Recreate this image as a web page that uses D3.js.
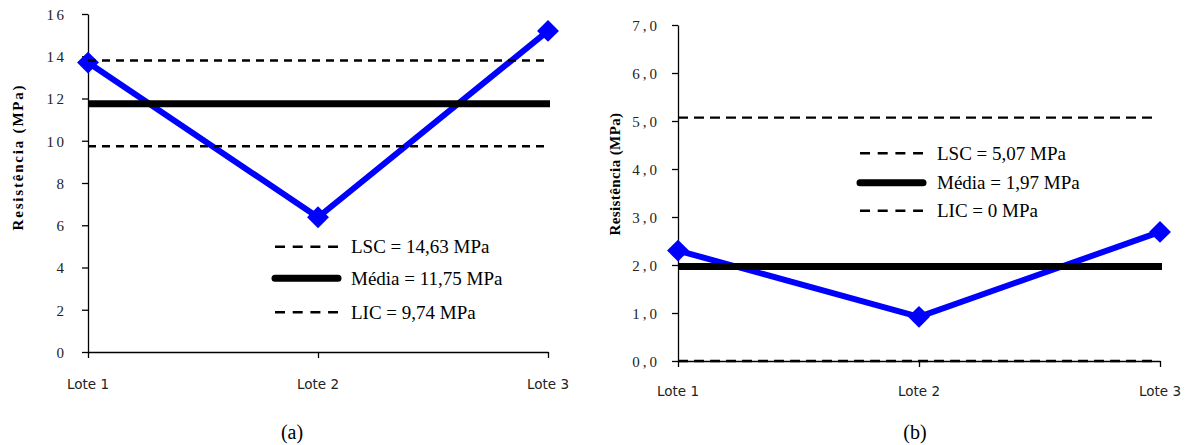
<!DOCTYPE html>
<html>
<head>
<meta charset="utf-8">
<script src="https://cdn.jsdelivr.net/npm/d3@7/dist/d3.min.js"></script>
<style>
  html, body { margin: 0; padding: 0; background: #fff; }
  svg { display: block; }
</style>
</head>
<body>
<svg id="chart" width="1188" height="445"></svg>
<script>
// ---------- data ----------
const categories = ["Lote 1", "Lote 2", "Lote 3"];
const valuesA = [13.7, 6.38, 15.2];
const valuesB = [2.3, 0.92, 2.69];
// control lines as drawn: LSC, Média, LIC
const limitsA = [13.8, 11.75, 9.74];
const limitsB = [5.07, 1.97, 0];
const legendA = ["LSC = 14,63 MPa", "Média = 11,75 MPa", "LIC = 9,74 MPa"];
const legendB = ["LSC = 5,07 MPa", "Média = 1,97 MPa", "LIC = 0 MPa"];
const ticksA = [0, 2, 4, 6, 8, 10, 12, 14, 16];
const ticksB = [0, 1, 2, 3, 4, 5, 6, 7];
const yTitle = "Resistência (MPa)";
const panelLabels = ["(a)", "(b)"];

const svg = d3.select("#chart");
const SERIF = "'Liberation Serif', 'Times New Roman', serif";
const SANS = "'DejaVu Sans', sans-serif";

const panels = [
  {
    values: valuesA, limits: limitsA, legend: legendA, ticks: ticksA,
    domain: [0, 16], fmt: d3.format("d"),
    x0: 88, x1: 548, yTop: 14, yBot: 352,
    tickLS: 2.5, tickGap: 18,
    titleX: 18, titleY: 157, titleLS: 1.8,
    dash: "8,6",
    legX: 275, legTextX: 351, legY: [246.7, 278.3, 312.3],
    xLabelY: 389, label: panelLabels[0], labelX: 292
  },
  {
    values: valuesB, limits: limitsB, legend: legendB, ticks: ticksB,
    domain: [0, 7], fmt: d => d3.format(".1f")(d).replace(".", ","),
    x0: 678, x1: 1160, yTop: 25, yBot: 361,
    tickLS: 3, tickGap: 15,
    titleX: 615, titleY: 174, titleLS: 0.4,
    dash: "10,6",
    legX: 860, legTextX: 937, legY: [153.3, 182.7, 210.7],
    xLabelY: 396, label: panelLabels[1], labelX: 915
  }
];

panels.forEach(p => {
  const x = d3.scalePoint().domain(categories).range([p.x0, p.x1]).padding(0);
  const y = d3.scaleLinear().domain(p.domain).range([p.yBot, p.yTop]);
  const g = svg.append("g");

  // y axis
  const ya = g.append("g")
    .attr("transform", `translate(${p.x0},0)`)
    .call(d3.axisLeft(y).tickValues(p.ticks).tickFormat(p.fmt).tickSize(6).tickSizeOuter(0).tickPadding(p.tickGap));
  ya.attr("font-family", null);
  ya.select(".domain").attr("stroke", "#000").attr("stroke-width", 1.3);
  ya.selectAll(".tick line").attr("stroke", "#000").attr("stroke-width", 1.3);
  ya.selectAll(".tick text")
    .attr("font-family", SERIF).attr("font-size", 15).attr("fill", "#222")
    .attr("letter-spacing", p.tickLS)
    .attr("x", -(6 + p.tickGap) + p.tickLS)
    .attr("dy", "0.35em");

  // x axis
  const xa = g.append("g")
    .attr("transform", `translate(0,${p.yBot})`)
    .call(d3.axisBottom(x).tickSize(6).tickSizeOuter(0).tickFormat(() => ""));
  xa.select(".domain").attr("stroke", "#000").attr("stroke-width", 1.3);
  xa.selectAll(".tick line").attr("stroke", "#000").attr("stroke-width", 1.3);

  g.selectAll(".xlab").data(categories).enter().append("text")
    .attr("x", d => x(d)).attr("y", p.xLabelY)
    .attr("text-anchor", "middle")
    .attr("font-family", SANS).attr("font-size", 13.5).attr("fill", "#222")
    .text(d => d);

  // y title
  g.append("text")
    .attr("transform", `translate(${p.titleX + 5},${p.titleY}) rotate(-90)`)
    .attr("text-anchor", "middle")
    .attr("font-family", SERIF).attr("font-size", 15).attr("font-weight", "bold")
    .attr("letter-spacing", p.titleLS)
    .text(yTitle);

  // series line
  const pts = categories.map((c, i) => [x(c), y(p.values[i])]);
  g.append("path")
    .attr("d", d3.line()(pts))
    .attr("fill", "none").attr("stroke", "#0000FF").attr("stroke-width", 6)
    .attr("stroke-linejoin", "miter");
  g.selectAll(".mk").data(pts).enter().append("path")
    .attr("d", d3.symbol(d3.symbolSquare, 240)())
    .attr("transform", d => `translate(${d[0]},${d[1]}) rotate(45)`)
    .attr("fill", "#0000FF");

  // control lines
  p.limits.forEach((v, i) => {
    const isMean = i === 1;
    g.append("line")
      .attr("x1", p.x0).attr("x2", p.x1 + (isMean ? 2 : -2))
      .attr("y1", y(v)).attr("y2", y(v))
      .attr("stroke", "#000")
      .attr("stroke-width", isMean ? 7 : 2.4)
      .attr("stroke-dasharray", isMean ? null : p.dash);
  });

  // legend
  p.legend.forEach((t, i) => {
    const isMean = i === 1;
    const ly = p.legY[i];
    g.append("line")
      .attr("x1", p.legX).attr("x2", p.legX + 63)
      .attr("y1", ly).attr("y2", ly)
      .attr("stroke", "#000")
      .attr("stroke-width", isMean ? 7 : 2.4)
      .attr("stroke-linecap", isMean ? "round" : "butt")
      .attr("stroke-dasharray", isMean ? null : "10,7.7");
    g.append("text")
      .attr("x", p.legTextX).attr("y", ly + 6.5)
      .attr("font-family", SERIF).attr("font-size", 19).attr("fill", "#000")
      .text(t);
  });

  // panel label
  g.append("text")
    .attr("x", p.labelX).attr("y", 439)
    .attr("text-anchor", "middle")
    .attr("font-family", SERIF).attr("font-size", 20).attr("fill", "#000")
    .text(p.label);
});
</script>
</body>
</html>
